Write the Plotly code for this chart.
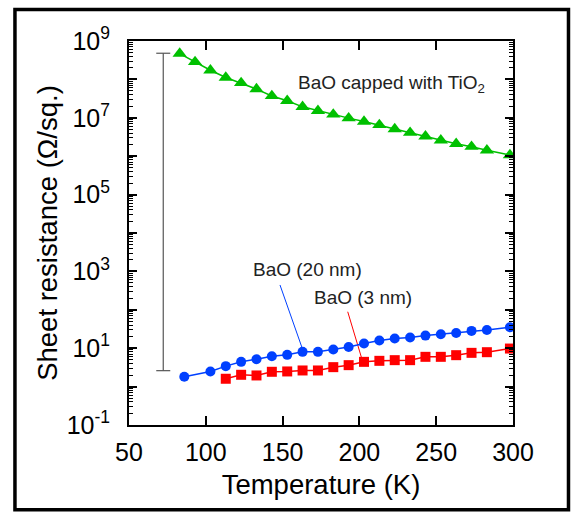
import plotly.graph_objects as go

# ---- data ----
temp_capped = [83, 93, 103, 113, 123, 133, 143, 153, 163, 173, 183, 193, 203,
               213, 223, 233, 243, 253, 263, 273, 283, 298]
r_capped = [4.7e8, 2.85e8, 1.73e8, 1.12e8, 8.1e7, 5.6e7, 3.7e7, 2.77e7, 1.93e7,
            1.52e7, 1.22e7, 9.8e6, 8.0e6, 6.5e6, 5.1e6, 4.1e6, 3.3e6, 2.6e6,
            2.1e6, 1.77e6, 1.42e6, 1.07e6]

temp_20nm = [86, 103, 113, 123, 133, 143, 153, 163, 173, 183, 193, 203, 213,
             223, 233, 243, 253, 263, 273, 283, 298]
r_20nm = [1.80, 2.48, 3.41, 4.41, 5.18, 6.19, 6.71, 8.03, 8.03, 9.23, 10.8,
          13.2, 15.8, 17.8, 18.9, 21.3, 23.1, 25.0, 28.2, 29.9, 35.1]

temp_3nm = [113, 123, 133, 143, 153, 163, 173, 183, 193, 203, 213, 223, 233,
            243, 253, 263, 273, 283, 298]
r_3nm = [1.60, 2.03, 1.95, 2.43, 2.48, 2.63, 2.63, 3.21, 3.62, 4.41, 4.69,
         4.88, 4.88, 5.96, 5.96, 6.58, 7.57, 7.87, 9.79]

# vertical range bar (gray)
range_temp = [72.3, 72.3]
range_r = [2.6, 4.8e8]

# pointer lines from labels to curves
ptr_20nm_temp = [148.3, 162.8]
ptr_20nm_r = [443, 9.9]
ptr_3nm_temp = [192.4, 201.5]
ptr_3nm_r = [89, 5.46]

x_ticks = [50, 100, 150, 200, 250, 300]
y_exponents = list(range(-1, 10))
y_tickvals = [10.0 ** e for e in y_exponents]
y_ticktext = [("10<sup>%d</sup>" % e) if e % 2 == 1 or e == -1 else "" for e in y_exponents]

label_capped = "BaO capped with TiO<sub>2</sub>"
label_20nm = "BaO (20 nm)"
label_3nm = "BaO (3 nm)"

GREEN = "#00c000"
BLUE = "#0040ff"
RED = "#ff0000"
FONT = "Liberation Sans, Arial, sans-serif"

fig = go.Figure()

fig.add_trace(go.Scatter(x=range_temp, y=range_r, mode="lines+markers",
                         line=dict(color="#555555", width=1.2),
                         marker=dict(symbol="line-ew", size=10,
                                     line=dict(color="#555555", width=1.2)),
                         hoverinfo="skip"))

fig.add_trace(go.Scatter(x=ptr_20nm_temp, y=ptr_20nm_r, mode="lines",
                         line=dict(color=BLUE, width=1), hoverinfo="skip"))
fig.add_trace(go.Scatter(x=ptr_3nm_temp, y=ptr_3nm_r, mode="lines",
                         line=dict(color=RED, width=1), hoverinfo="skip"))

fig.add_trace(go.Scatter(x=temp_capped, y=r_capped, mode="lines+markers",
                         line=dict(color=GREEN, width=1.5),
                         marker=dict(symbol="triangle-up", size=12.5, color=GREEN),
                         name=label_capped))
fig.add_trace(go.Scatter(x=temp_20nm, y=r_20nm, mode="lines+markers",
                         line=dict(color=BLUE, width=1.5),
                         marker=dict(symbol="circle", size=10, color=BLUE),
                         name=label_20nm))
fig.add_trace(go.Scatter(x=temp_3nm, y=r_3nm, mode="lines+markers",
                         line=dict(color=RED, width=1.5),
                         marker=dict(symbol="square", size=10, color=RED),
                         name=label_3nm))

ann_font = dict(family=FONT, size=19, color="#222222")
fig.add_annotation(x=220.6, y=7.88, text=label_capped, showarrow=False,
                   font=ann_font, xanchor="center", yanchor="middle")
fig.add_annotation(x=165.9, y=3.04, text=label_20nm, showarrow=False,
                   font=ann_font, xanchor="center", yanchor="middle")
fig.add_annotation(x=202.3, y=2.31, text=label_3nm, showarrow=False,
                   font=ann_font, xanchor="center", yanchor="middle")

# outer frame around the figure
fig.add_shape(type="rect", xref="paper", yref="paper",
              x0=-0.297, x1=1.1445, y0=-0.221, y1=1.082,
              line=dict(color="black", width=3.5), fillcolor="rgba(0,0,0,0)",
              layer="above")

fig.update_layout(
    width=572, height=512,
    margin=dict(l=129, r=59, t=41, b=87),
    paper_bgcolor="white", plot_bgcolor="white",
    showlegend=False,
    font=dict(family=FONT, color="black"),
)

fig.update_xaxes(
    range=[50, 300], tickmode="array", tickvals=x_ticks,
    ticks="inside", ticklen=9, tickwidth=1.5, tickcolor="black",
    showline=True, linewidth=2, linecolor="black", mirror="ticks",
    showgrid=False, zeroline=False,
    tickfont=dict(family=FONT, size=25, color="black"),
    ticklabelstandoff=4,
    title=dict(text="Temperature (K)", font=dict(family=FONT, size=27.5, color="black"),
               standoff=10),
)

fig.update_yaxes(
    type="log", range=[-1, 9], tickmode="array",
    tickvals=y_tickvals, ticktext=y_ticktext,
    ticks="inside", ticklen=8, tickwidth=1.5, tickcolor="black",
    minor=dict(ticks="inside", ticklen=4, tickwidth=1, tickcolor="black",
               dtick="D1", showgrid=False),
    showline=True, linewidth=2, linecolor="black", mirror="ticks",
    showgrid=False, zeroline=False,
    tickfont=dict(family=FONT, size=25, color="black"),
    ticklabelstandoff=12,
    title=dict(text="Sheet resistance (\u03a9/sq.)",
               font=dict(family=FONT, size=27.5, color="black"), standoff=1),
)

fig.write_html("out.html", config={"displayModeBar": False},
               post_script="document.body.style.margin='0';document.body.style.padding='0';")
